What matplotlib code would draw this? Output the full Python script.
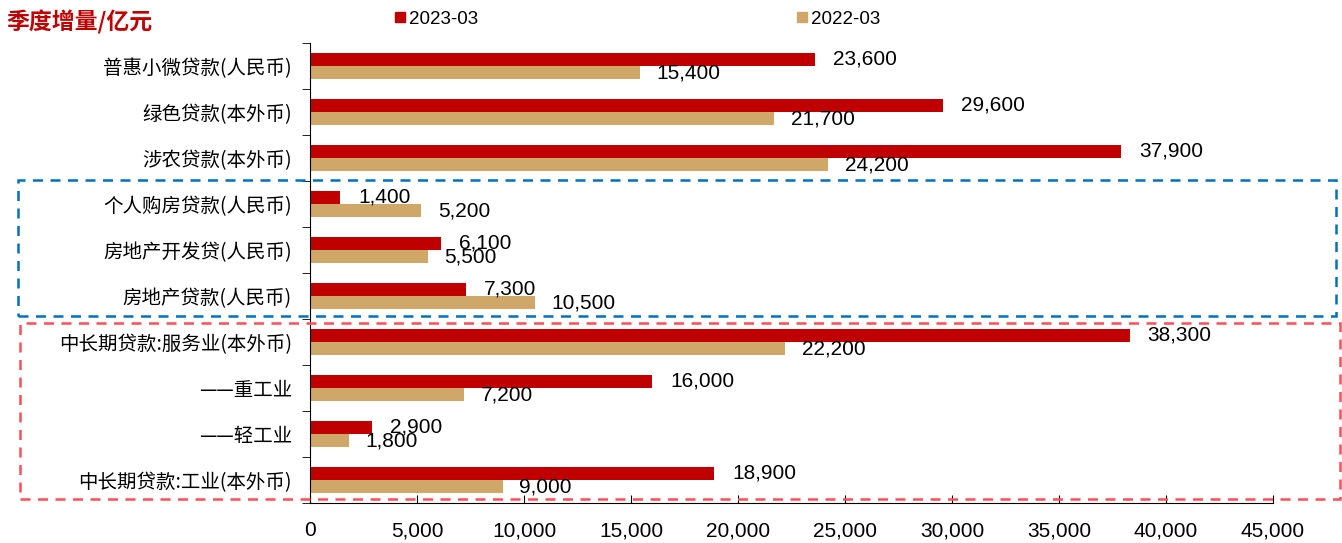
import numpy as np
import matplotlib.pyplot as plt
from matplotlib.patches import Rectangle
from matplotlib.lines import Line2D
from matplotlib.ticker import FuncFormatter, FixedLocator

plt.rcParams['font.family'] = ['Liberation Sans', 'Noto Sans CJK SC', 'DejaVu Sans']

categories = ['普惠小微贷款(人民币)', '绿色贷款(本外币)', '涉农贷款(本外币)',
              '个人购房贷款(人民币)', '房地产开发贷(人民币)', '房地产贷款(人民币)',
              '中长期贷款:服务业(本外币)', '——重工业', '——轻工业',
              '中长期贷款:工业(本外币)']
q2023 = [23600, 29600, 37900, 1400, 6100, 7300, 38300, 16000, 2900, 18900]
q2022 = [15400, 21700, 24200, 5200, 5500, 10500, 22200, 7200, 1800, 9000]

red = '#C00000'
tan = '#CFA769'

fig = plt.figure(figsize=(13.42, 5.43), dpi=100)
W, H = 1342, 543
ax = fig.add_axes([310 / W, 1 - 503 / H, (1273 - 310) / W, (503 - 43) / H])

y = np.arange(len(categories))
h = 0.29
ax.barh(y - h / 2, q2023, height=h, color=red)
ax.barh(y + h / 2, q2022, height=h, color=tan)

for yi, v in zip(y, q2023):
    ax.annotate(f'{v:,}', xy=(v, yi - h / 2), xytext=(13, 0), textcoords='offset points',
                va='center', ha='left', fontsize=15, color='black')
for yi, v in zip(y, q2022):
    ax.annotate(f'{v:,}', xy=(v, yi + h / 2), xytext=(12, 0), textcoords='offset points',
                va='center', ha='left', fontsize=15, color='black')

ax.set_xlim(0, 45000)
ax.set_ylim(len(categories) - 0.5, -0.5)
ax.set_xticks(np.arange(0, 45001, 5000))
ax.xaxis.set_major_formatter(FuncFormatter(lambda v, p: f'{int(v):,}'))
ax.tick_params(axis='x', direction='in', length=6, labelsize=15, pad=13)

ax.set_yticks(y)
ax.set_yticklabels(categories, fontsize=14, family=['Noto Sans CJK SC'])
ax.tick_params(axis='y', which='major', length=0, pad=13)
ax.yaxis.set_minor_locator(FixedLocator(np.arange(-0.5, len(categories), 1.0)))
ax.tick_params(axis='y', which='minor', direction='out', length=6)

for s in ['top', 'right']:
    ax.spines[s].set_visible(False)

# legend across the top
handles = [Line2D([], [], marker='s', ls='', color=red, markersize=7),
           Line2D([], [], marker='s', ls='', color=tan, markersize=7)]
fig.legend(handles, ['2023-03', '2022-03'], loc='center left', bbox_to_anchor=(0.2885, 0.965),
           ncol=2, frameon=False, fontsize=13.5,
           handlelength=0.6, handletextpad=0.15, columnspacing=17.0, borderaxespad=0)

fig.text(0.005, 0.958, '季度增量/亿元', color=red, fontsize=16.5, fontweight='bold',
         style='italic', family=['Noto Sans CJK SC'], va='center', ha='left')

# dashed boxes around the property and medium/long-term loan groups
fig.patches.append(Rectangle((18 / W, 1 - 316 / H), (1336 - 18) / W, (316 - 180) / H,
                             transform=fig.transFigure, fill=False, ec='#0070C0',
                             ls=(0, (4, 3)), lw=1.8))
fig.patches.append(Rectangle((20 / W, 1 - 499 / H), (1340 - 20) / W, (499 - 323) / H,
                             transform=fig.transFigure, fill=False, ec='#FF4F55',
                             ls=(0, (4, 3)), lw=1.8))

fig.savefig('out.png', dpi=100)
